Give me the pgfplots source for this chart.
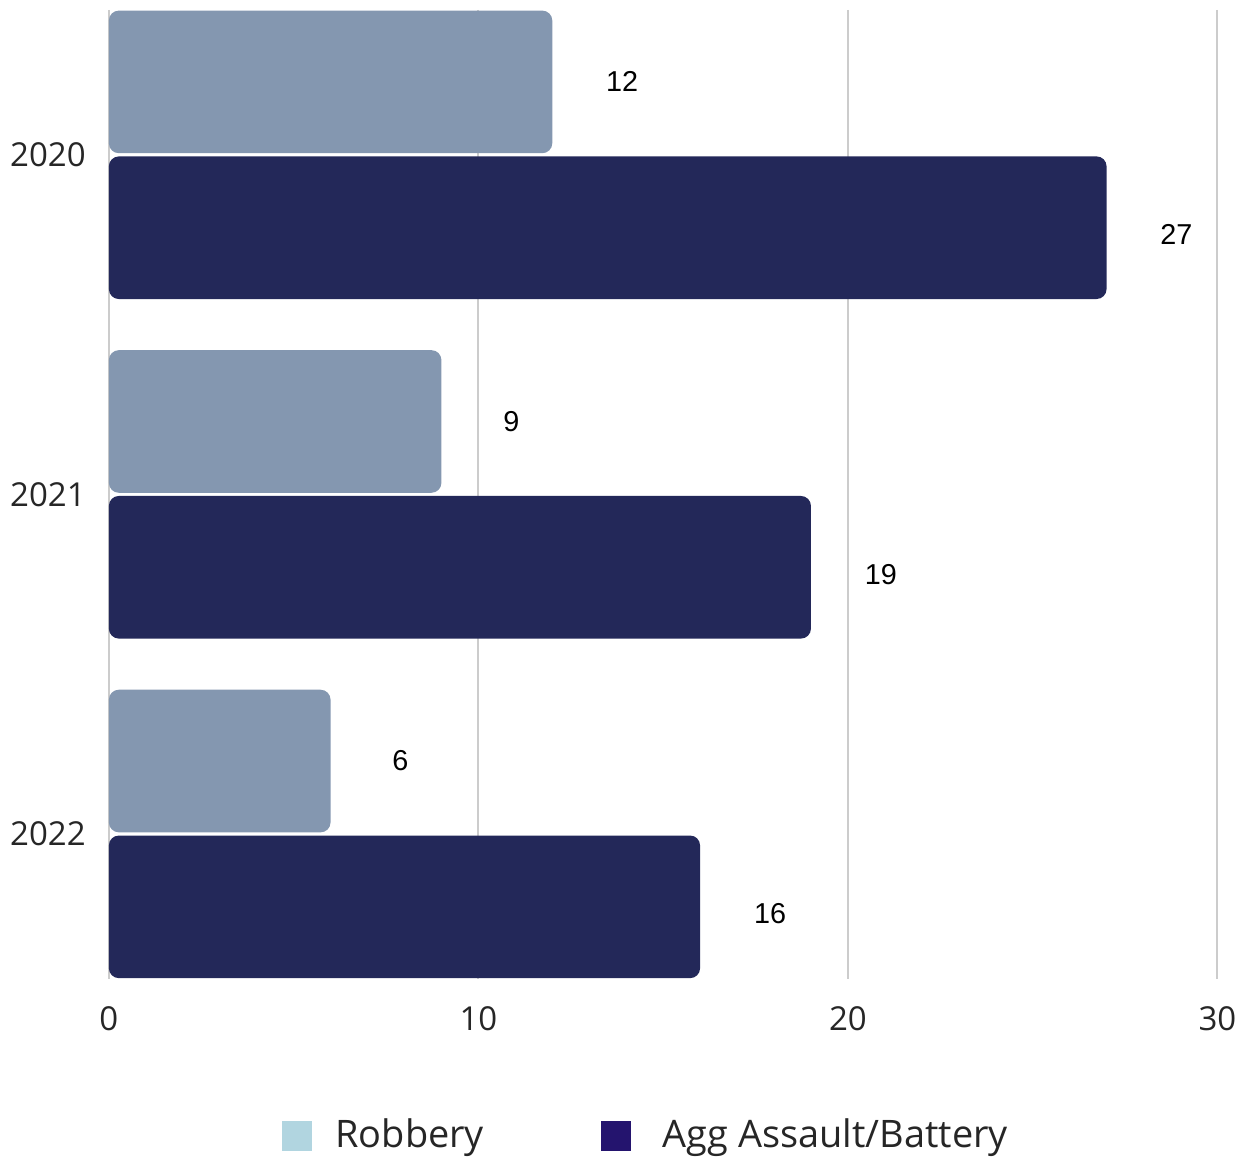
\documentclass[border=0pt]{standalone}
\usepackage{fontspec}
\setmainfont{Open Sans}
\newfontfamily\labelfont{Liberation Sans}
\usepackage{pgfplots}
\pgfplotsset{compat=1.18}

\definecolor{robbar}{HTML}{8497B0}
\definecolor{aggbar}{HTML}{232859}
\definecolor{roblegend}{HTML}{B1D5E0}
\definecolor{agglegend}{HTML}{24146E}
\definecolor{gridgray}{HTML}{CCCCCC}

\begin{document}
\begin{tikzpicture}
\begin{axis}[
    scale only axis,
    width=111mm, height=97mm,
    xbar,
    y dir=reverse,
    xmin=0, xmax=30,
    ymin=-0.4265, ymax=2.4265,
    ytick={0,1,2},
    yticklabels={2020,2021,2022},
    xtick={0,10,20,30},
    xmajorgrids,
    grid style={gridgray, line width=0.6pt},
    axis line style={draw=none},
    major tick length=0pt,
    tick label style={font=\fontsize{9.4}{11}\selectfont, text=black!85},
    /pgf/number format/assume math mode=true,
    xticklabel style={yshift=-1.5mm},
    yticklabel style={inner xsep=0.5mm, xshift=-1.75mm},
    bar width=0.42,
    nodes near coords,
    every node near coord/.append style={font=\labelfont\fontsize{8.2}{9}\selectfont,
        text=black, anchor=center, xshift=7mm},
    legend columns=2,
    legend style={draw=none, fill=none, at={(0.487,-0.162)}, anchor=center,
        font=\fontsize{10.8}{13}\selectfont, text=black!85,
        /tikz/every even column/.append style={column sep=11mm}},
    legend cell align=left,
]
\addplot[fill=robbar, draw=none, rounded corners=1mm, bar shift=-0.2147,
    every node near coord/.append style={yshift=0mm},
    legend image code/.code={\path[draw=none, fill=none, sharp corners] (0mm,0mm) rectangle (4.6mm,0.1mm);
        \fill[roblegend, sharp corners] (0mm,-1.5mm) rectangle (3mm,1.5mm);}]
    coordinates {(12,0) (9,1) (6,2)};
\addplot[fill=aggbar, draw=none, rounded corners=1mm, bar shift=0.2147,
    every node near coord/.append style={yshift=-0.7mm},
    legend image code/.code={\path[draw=none, fill=none, sharp corners] (0mm,0mm) rectangle (5.5mm,0.1mm);
        \fill[agglegend, sharp corners] (0mm,-1.5mm) rectangle (3mm,1.5mm);}]
    coordinates {(27,0) (19,1) (16,2)};
\legend{Robbery, Agg Assault/Battery}
\end{axis}
\path ([xshift=-10.9mm,yshift=1mm]current axis.north west) rectangle ([xshift=2.9mm,yshift=-18mm]current axis.south east);
\end{tikzpicture}
\end{document}
